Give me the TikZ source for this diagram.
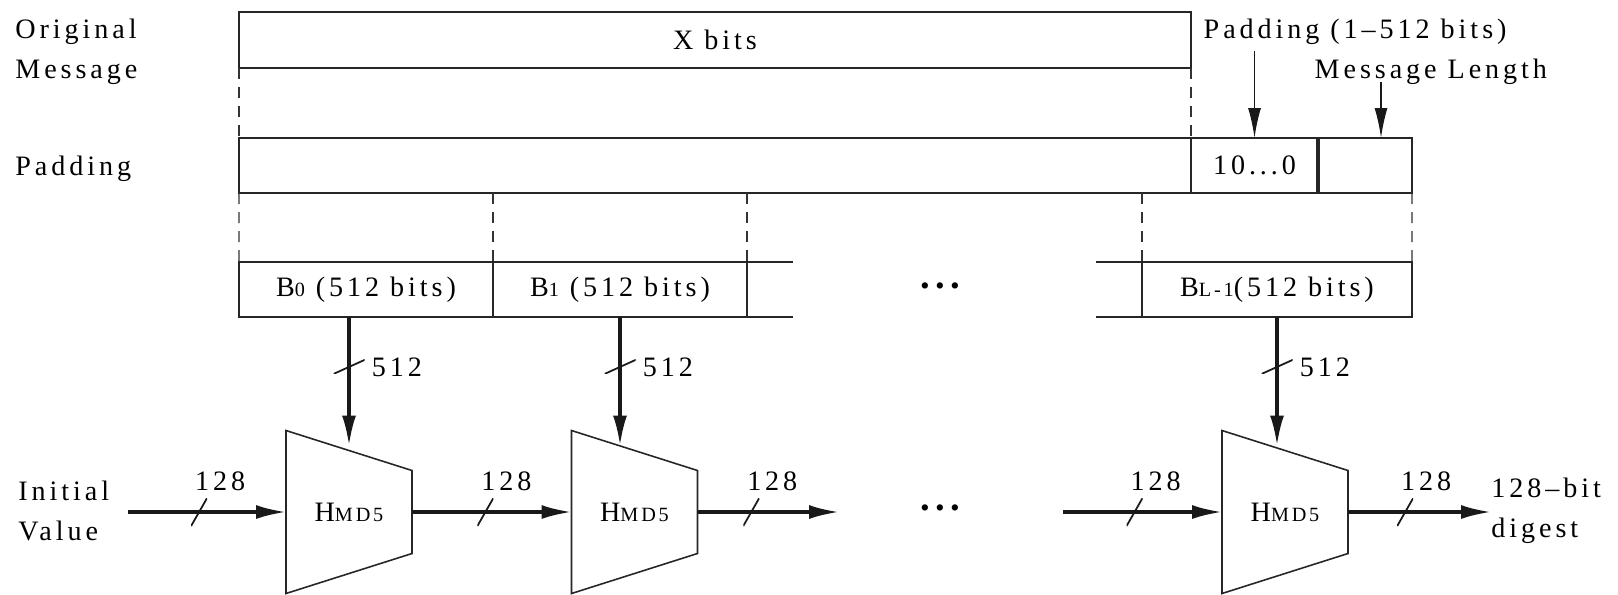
\documentclass[tikz,border=0pt]{standalone}
\usepackage{fontspec}
\setmainfont{Liberation Serif}[LetterSpace=14]
\usepackage{tikz}
\usetikzlibrary{arrows.meta,positioning}
\newcommand{\smallpart}[1]{{\fontsize{11.5}{12}\selectfont #1}}
\newcommand{\gapdots}{{\fontsize{22}{22}\selectfont\textbf{...}}}
\tikzset{
  cellbox/.style={
    rectangle,
    draw=black!85,
    line width=1.1pt,
    minimum height=1.1cm,
    inner sep=0pt,
    outer sep=0pt,
    align=center
  },
  cellline/.style={draw=black!85, line width=1.1pt},
  sidelabel/.style={
    anchor=west,
    align=left,
    inner sep=0pt,
    font=\fontsize{16}{23}\selectfont
  },
  guideline/.style={draw=black!80, line width=0.7pt, dash pattern=on 0.22cm off 0.16cm},
  busarrow/.style={-{Latex[length=0.6cm,width=0.28cm]}, line width=1.8pt, draw=black!90},
  ptrarrow/.style={-{Latex[length=0.6cm,width=0.26cm]}, line width=1pt, draw=black!90},
  hashbox/.style={minimum width=2.52cm, minimum height=3.26cm, inner sep=0pt, outer sep=0pt},
  hashline/.style={draw=black!85, line width=0.9pt},
  hslash/.style={
    minimum width=0.32cm, minimum height=0.56cm, inner sep=0pt, outer sep=0pt,
    path picture={\draw[-, line width=1pt] (path picture bounding box.south west) -- (path picture bounding box.north east);},
    label={[xshift=0.42cm]above:#1}
  },
  vslash/.style={
    minimum width=0.62cm, minimum height=0.28cm, inner sep=0pt, outer sep=0pt,
    path picture={\draw[-, line width=1pt] (path picture bounding box.south west) -- (path picture bounding box.north east);},
    label={right:#1}
  }
}

\begin{document}
\begin{tikzpicture}[x=1cm,y=1cm,font=\fontsize{16}{19}\selectfont]
\useasboundingbox (0,0) rectangle (32.36,-11.88);

% message and padded message
\node[cellbox, minimum width=19.04cm, minimum height=1.12cm] (msg) at (14.30,-0.80) {X bits};
\node[cellbox, minimum width=19.04cm] (padbig) at (14.30,-3.31) {};
\node[cellbox, minimum width=2.54cm, right=0pt of padbig] (pad10) {10...0};
\node[cellbox, minimum width=1.88cm, right=0pt of pad10] (padlen) {};
\draw[cellline, line width=1.9pt] (pad10.north east) -- (pad10.south east);

\node[sidelabel] (origlbl) at (0.30,-1.03) {Original\\Message};
\node[sidelabel] (padlbl) at (0.30,-3.38) {Padding};
\node[anchor=west] (fillnote) at (23.95,-0.64) {Padding (1–512 bits)};
\node[anchor=west] (lennote) at (26.17,-1.44) {Message Length};
\coordinate (lentail) at ([xshift=0.32cm,yshift=1.12cm]padlen.north);

\draw[ptrarrow] (fillnote.south -| pad10.north) -- (pad10.north);
\draw[ptrarrow] (lentail) -- (lentail |- padlen.north);

% 512-bit blocks
\node[cellbox, minimum width=5.08cm] (b0) at (7.32,-5.79) {B\smallpart{0} (512 bits)};
\node[cellbox, minimum width=5.08cm, right=0pt of b0] (b1) {B\smallpart{1} (512 bits)};
\node[cellbox, minimum width=5.40cm] (bl) at (25.54,-5.79) {B\smallpart{L-1}(512 bits)};
\node (dotsB) at (18.86,-5.72) {\gapdots};

\draw[cellline] (b1.north east) -- ++(0.92,0);
\draw[cellline] (b1.south east) -- ++(0.92,0);
\draw[cellline] (bl.north west) -- ++(-0.92,0);
\draw[cellline] (bl.south west) -- ++(-0.92,0);

\draw[guideline] (msg.south west) -- (padbig.north west);
\draw[guideline] (msg.south east) -- (padbig.north east);
\draw[guideline] (padbig.south west) -- (b0.north west);
\draw[guideline] (b0.north east |- padbig.south) -- (b0.north east);
\draw[guideline] (b1.north east |- padbig.south) -- (b1.north east);
\draw[guideline] (bl.north west |- padbig.south) -- (bl.north west);
\draw[guideline] (padlen.south east) -- (bl.north east);

% compression chain
\node[hashbox] (h0) at (6.98,-10.24) {H\smallpart{MD5}};
\node[hashbox] (h1) at (12.69,-10.24) {H\smallpart{MD5}};
\node[hashbox] (h2) at (25.70,-10.24) {H\smallpart{MD5}};
\foreach \h in {h0,h1,h2}
  \draw[hashline] (\h.north west) -- ([yshift=-0.8cm]\h.north east) -- ([yshift=0.8cm]\h.south east) -- (\h.south west) -- cycle;

\node[sidelabel] (ivlbl) at (0.36,-10.22) {Initial\\Value};
\node[sidelabel] (dglbl) at (29.82,-10.22) {128–bit\\digest};
\node (dotsH) at (18.86,-10.16) {\gapdots};
\coordinate (ivtail) at (2.56,-10.24);
\coordinate (gapR) at (16.78,-10.24);
\coordinate (gapL) at (21.26,-10.24);

\draw[busarrow, shorten >=-0.3cm] (b0.south -| h0.north) -- node[vslash=512, pos=.44] {} (h0.north);
\draw[busarrow, shorten >=-0.3cm] (b1.south) -- node[vslash=512, pos=.44] {} (b1.south |- h1.north);
\draw[busarrow, shorten >=-0.3cm] (bl.south) -- node[vslash=512, pos=.44] {} (bl.south |- h2.north);

\draw[busarrow] (ivtail) -- node[hslash=128, pos=.45] {} (h0.west);
\draw[busarrow] (h0.east) -- node[hslash=128, pos=.46] {} (h1.west);
\draw[busarrow] (h1.east) -- node[hslash=128, pos=.38] {} (gapR);
\draw[busarrow] (gapL) -- node[hslash=128, pos=.45] {} (h2.west);
\draw[busarrow] (h2.east) -- node[hslash=128, pos=.40] {} (dglbl.west |- h2.east);
\end{tikzpicture}
\end{document}
